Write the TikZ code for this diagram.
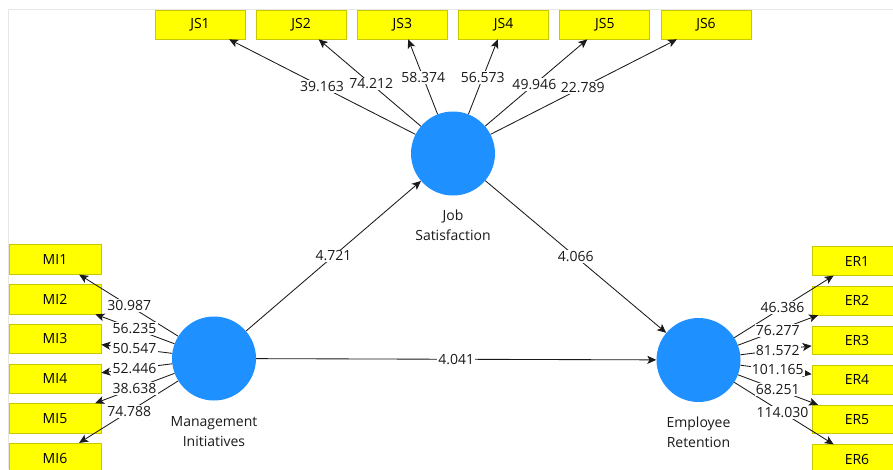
\documentclass[tikz,border=0pt]{standalone}
\usepackage{fontspec}
\setmainfont{Open Sans}
\usetikzlibrary{arrows.meta,calc}
\definecolor{lvblue}{HTML}{1E90FF}
\definecolor{indyellow}{HTML}{FFFF00}
\definecolor{indborder}{HTML}{C8C800}
\definecolor{framegray}{HTML}{E6E6E6}
\definecolor{inkgray}{HTML}{1A1A1A}
\begin{document}
\begin{tikzpicture}[x=1pt,y=-1pt,font=\fontsize{14}{20}\selectfont,
  lv/.style={circle, fill=lvblue, minimum size=84pt, inner sep=0pt},
  ind/.style={rectangle, fill=indyellow, draw=indborder, line width=0.7pt,
    minimum width=90pt, minimum height=29pt, inner sep=0pt},
  conn/.style={draw=inkgray, line width=0.85pt, -{Stealth[length=9pt,width=8pt,inset=2.2pt]}},
  wt/.style={fill=white, inner sep=1.2pt, text=inkgray},
  lvname/.style={align=center, text=inkgray}]
\useasboundingbox (0,0) rectangle (893,469);
\fill[white] (0,0) rectangle (893,469);
\draw[framegray, line width=1pt] (8,469) -- (8,9) -- (893,9);

% latent variables
\node[lv] (js) at (453,153.5) {};
\node[lv] (mi) at (214,358.5) {};
\node[lv] (er) at (698.5,360) {};
\node[lvname] (jsname) at ($(js)+(0,71.5)$) {Job\\Satisfaction};
\node[lvname] (miname) at ($(mi)+(0,73.5)$) {Management\\Initiatives};
\node[lvname] (ername) at ($(er)+(0,72.5)$) {Employee\\Retention};

% indicators
\foreach \i/\x in {1/200,2/301.2,3/402.4,4/503.6,5/604.8,6/706}
  \node[ind] (js\i) at (\x,24.5) {JS\i};
\foreach \i in {1,...,6}
  \node[ind, minimum width=92pt, minimum height=29.5pt] (mi\i) at (55,{259.5+39.7*(\i-1)}) {MI\i};
\foreach \i in {1,...,6}
  \node[ind, minimum height=28.5pt] (er\i) at (857,{261+39.6*(\i-1)}) {ER\i};

% connectors
\foreach \i in {1,...,6} {
  \draw[conn] (js) -- (js\i);
  \draw[conn] (mi) -- (mi\i);
  \draw[conn] (er) -- (er\i);
}
\draw[conn] (mi) -- (js);
\draw[conn] (js) -- (er);
\draw[conn] (mi) -- (er);

% weights
\foreach \i/\t/\v in {1/0.518/39.163,2/0.539/74.212,3/0.588/58.374,4/0.588/56.573,5/0.536/49.946,6/0.513/22.789}
  \node[wt] (wjs\i) at ($(js)!\t!(js\i)$) {\v};
\foreach \i/\t/\v in {1/0.533/30.987,2/0.5/56.235,3/0.5/50.547,4/0.5/52.446,5/0.5/38.638,6/0.533/74.788}
  \node[wt] (wmi\i) at ($(mi)!\t!(mi\i)$) {\v};
\foreach \i/\t/\v in {1/0.53/46.386,2/0.5/76.277,3/0.5/81.572,4/0.5/101.165,5/0.5/68.251,6/0.53/114.030}
  \node[wt] (wer\i) at ($(er)!\t!(er\i)$) {\v};
\node[wt] (wmijs) at ($(mi)!0.5!(js)$) {4.721};
\node[wt] (wjser) at ($(js)!0.5!(er)$) {4.066};
\node[wt] (wmier) at ($(mi)!0.5!(er)$) {4.041};
\end{tikzpicture}
\end{document}
